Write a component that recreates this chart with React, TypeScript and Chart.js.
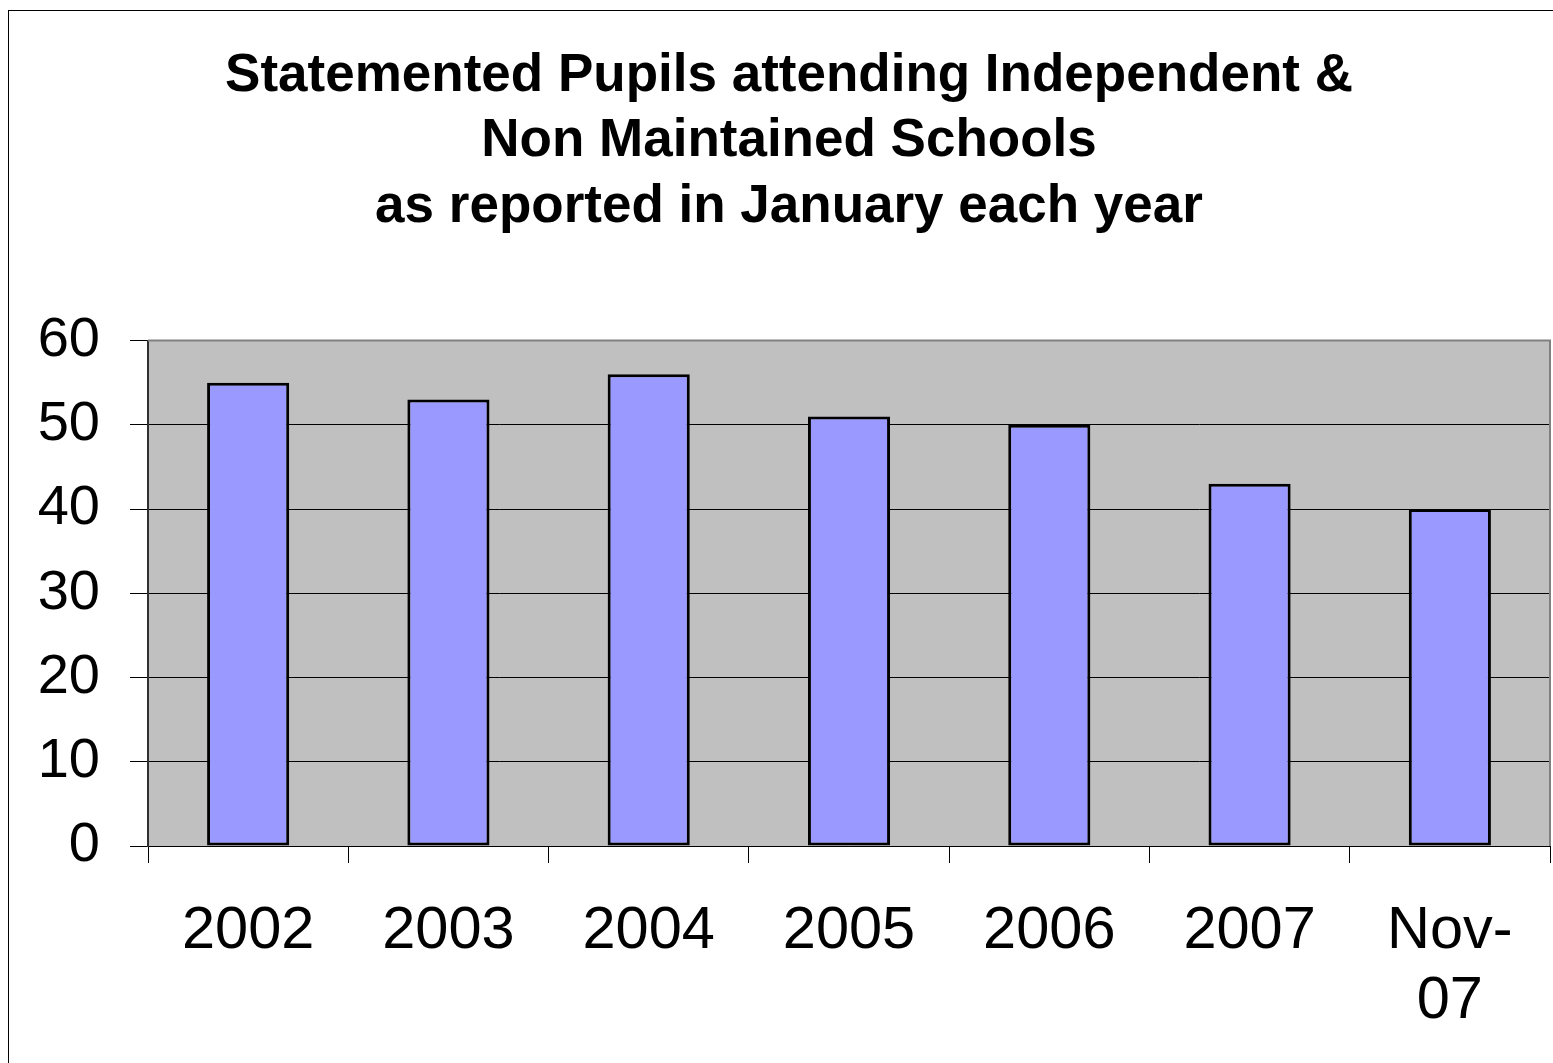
import React, { useEffect, useRef } from "react";
import { Chart, registerables } from "chart.js";

Chart.register(...registerables);

const categories: (string | string[])[] = ["2002", "2003", "2004", "2005", "2006", "2007", ["Nov-", "07"]];
const pupils = [55, 53, 56, 51, 50, 43, 40];
const titleLines = [
  "Statemented Pupils attending Independent &",
  "Non Maintained Schools",
  "as reported in January each year",
];
const yMin = 0;
const yMax = 60;
const yStep = 10;

const FONT = "'Liberation Sans', Arial, sans-serif";
const W = 1560;
const H = 1080;
const SIDE_PAD = 19;
const PLOT_BOTTOM = 835;
const PLOT_LEFT = 139;

const bgPlugin = {
  id: "plotBg",
  beforeDraw(chart: any) {
    const { ctx, chartArea } = chart;
    ctx.save();
    ctx.fillStyle = "#C0C0C0";
    ctx.fillRect(chartArea.left, chartArea.top, chartArea.right - chartArea.left, chartArea.bottom - chartArea.top);
    ctx.restore();
  },
  afterDraw(chart: any) {
    const { ctx, chartArea } = chart;
    ctx.save();
    ctx.strokeStyle = "#808080";
    ctx.lineWidth = 2;
    ctx.beginPath();
    ctx.moveTo(chartArea.left, chartArea.top);
    ctx.lineTo(chartArea.right, chartArea.top);
    ctx.lineTo(chartArea.right, chartArea.bottom);
    ctx.stroke();
    ctx.restore();
  },
};

export default function App() {
  const ref = useRef<HTMLCanvasElement>(null);
  useEffect(() => {
    if (!ref.current) return;
    const chart = new Chart(ref.current, {
      type: "bar",
      data: {
        labels: categories,
        datasets: [
          {
            data: pupils,
            backgroundColor: "#9999FF",
            borderColor: "#000000",
            borderWidth: 3,
            borderSkipped: false,
            barPercentage: 0.41,
            categoryPercentage: 1,
          },
        ],
      },
      options: {
        responsive: false,
        animation: false,
        layout: { padding: { left: SIDE_PAD, right: SIDE_PAD, top: 0, bottom: 0 } },
        plugins: {
          legend: { display: false },
          tooltip: { enabled: false },
          title: {
            display: true,
            text: titleLines,
            color: "#000",
            font: { family: FONT, size: 53, weight: "bold", lineHeight: 1.23 },
            padding: { top: 33, bottom: 101 },
          },
        },
        scales: {
          x: {
            offset: true,
            grid: {
              display: true,
              offset: true,
              drawOnChartArea: false,
              drawTicks: true,
              tickLength: 17,
              color: "#000",
              lineWidth: 1,
            },
            border: { display: true, color: "#000", width: 1 },
            ticks: {
              color: "#000",
              font: { family: FONT, size: 59.5, lineHeight: 1.17 },
              padding: 34,
              maxRotation: 0,
              autoSkip: false,
            },
            afterFit(scale: any) {
              scale.height = H - PLOT_BOTTOM;
            },
          },
          y: {
            min: yMin,
            max: yMax,
            grid: {
              color: "#000",
              lineWidth: 1,
              tickLength: 18,
              drawTicks: true,
            },
            border: { display: true, color: "#303030", width: 2 },
            ticks: {
              stepSize: yStep,
              color: "#000",
              font: { family: FONT, size: 56 },
              padding: 30,
            },
            afterFit(scale: any) {
              scale.width = PLOT_LEFT - SIDE_PAD;
            },
          },
        },
      },
      plugins: [bgPlugin],
    });
    return () => chart.destroy();
  }, []);

  return (
    <div
      style={{
        position: "absolute",
        left: 8,
        top: 10,
        width: 1545,
        height: 1053,
        overflow: "hidden",
        borderLeft: "1px solid #000",
        borderTop: "1px solid #000",
        boxSizing: "border-box",
        background: "#fff",
      }}
    >
      <canvas ref={ref} width={W} height={H} style={{ display: "block", width: W, height: H }} />
    </div>
  );
}
